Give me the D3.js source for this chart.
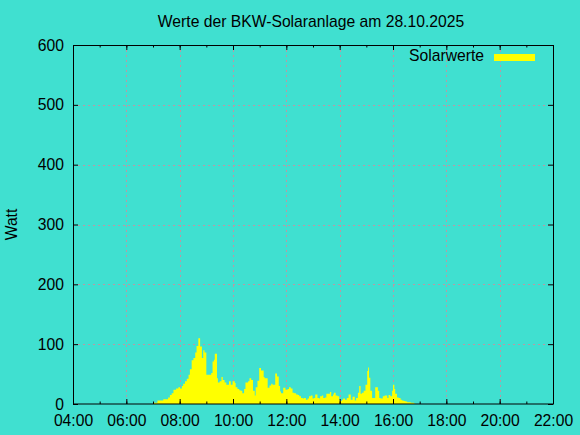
<!DOCTYPE html>
<html>
<head>
<meta charset="utf-8">
<script src="https://cdn.jsdelivr.net/npm/d3@7"></script>
<style>
  body { margin: 0; background: #40e0d0; }
  svg { display: block; font-family: "Liberation Sans", Arial, sans-serif; }
</style>
</head>
<body>
<svg id="chart" width="580" height="435"></svg>
<script>
//Messwerte (Uhrzeit der Stufe, Leistung in Watt)
var times = ["07:02","07:10","07:23","07:34","07:38","07:42","07:46","07:52","07:57","08:01",
  "08:05","08:08","08:12","08:16","08:20","08:23","08:27","08:31","08:35","08:38",
  "08:42","08:46","08:50","08:53","08:56","09:00","09:11","09:14","09:17","09:19",
  "09:24","09:26","09:30","09:34","09:37","09:41","09:45","09:51","09:55","09:59",
  "10:04","10:06","10:10","10:14","10:17","10:21","10:25","10:28","10:34","10:37",
  "10:41","10:45","10:49","10:51","10:55","10:59","11:03","11:09","11:11","11:18",
  "11:22","11:26","11:29","11:35","11:39","11:43","11:46","11:48","11:53","11:58",
  "12:03","12:06","12:10","12:14","12:18","12:22","12:26","12:29","12:33","12:37",
  "12:40","12:44","12:48","12:51","12:55","12:59","13:02","13:05","13:10","13:14",
  "13:16","13:20","13:23","13:27","13:30","13:35","13:38","13:41","13:45","13:47",
  "13:51","13:55","13:59","14:01","14:05","14:08","14:12","14:16","14:20","14:25",
  "14:29","14:34","14:37","14:41","14:44","14:47","14:50","14:54","14:58","15:02",
  "15:04","15:06","15:09","15:13","15:17","15:20","15:26","15:29","15:32","15:37",
  "15:41","15:47","15:50","15:54","15:58","16:00","16:03","16:05","16:09","16:13",
  "16:17","16:20","16:24","16:28","16:32","16:36","16:40","16:43","16:47","16:50"];
var watts = [2,6,8,11,15,18,24,26,28,26,
  30,34,38,42,49,58,73,77,86,97,
  110,96,77,90,86,49,52,71,74,84,
  43,36,38,45,40,36,32,38,32,38,
  35,28,25,23,22,18,25,36,38,43,
  40,22,14,28,39,60,56,45,43,27,
  31,34,32,51,46,30,21,18,27,24,
  25,28,26,19,18,16,15,13,10,9,
  10,7,9,13,14,9,10,16,10,9,
  13,14,10,11,17,17,20,13,16,19,
  14,13,7,5,7,9,7,10,16,7,
  12,6,10,19,30,17,19,22,32,55,
  61,44,22,10,10,28,22,10,9,13,
  14,10,15,13,22,32,25,17,11,10,
  7,6,5,4,3,3,2,2,1,0];

var xTicks = ["04:00","06:00","08:00","10:00","12:00","14:00","16:00","18:00","20:00","22:00"];
var yTicks = [0, 100, 200, 300, 400, 500, 600];

var title = "Werte der BKW-Solaranlage am 28.10.2025";
var yLabel = "Watt";
var seriesName = "Solarwerte";

var fillColor = "#ffff00";
var gridColor = "#b89aa4";
var fontSize = 15.7;

var svg = d3.select("svg#chart");
var margin = { left: 73, right: 27, top: 45, bottom: 31 };
var width = 580 - margin.left - margin.right,
    height = 435 - margin.top - margin.bottom;

var parseTime = d3.timeParse("%H:%M");
var data = times.map(function (t, i) { return { t: parseTime(t), w: watts[i] }; });

var x = d3.scaleTime()
  .domain([parseTime(xTicks[0]), parseTime(xTicks[xTicks.length - 1])])
  .range([0, width]);
var y = d3.scaleLinear()
  .domain([yTicks[0], yTicks[yTicks.length - 1]])
  .range([height, 0]);

var majorX = xTicks.map(parseTime);
var minorX = d3.timeHour.every(1).range(x.domain()[0], x.domain()[1]).concat([x.domain()[1]]);

var g = svg.append("g")
  .attr("transform", "translate(" + margin.left + "," + margin.top + ")");

//Gitter (gepunktet, hinter den Daten)
g.append("g").selectAll("line.gx")
  .data(majorX.slice(1, -1))
  .enter().append("line")
    .attr("x1", function (d) { return Math.round(x(d)) + 0.5; })
    .attr("x2", function (d) { return Math.round(x(d)) + 0.5; })
    .attr("y1", 0).attr("y2", height)
    .attr("stroke", gridColor)
    .attr("stroke-dasharray", "2,3");
g.append("g").selectAll("line.gy")
  .data(yTicks.slice(1, -1))
  .enter().append("line")
    .attr("x1", 0).attr("x2", width)
    .attr("y1", function (d) { return Math.round(y(d)) + 0.5; })
    .attr("y2", function (d) { return Math.round(y(d)) + 0.5; })
    .attr("stroke", gridColor)
    .attr("stroke-dasharray", "2,3");

//Flaeche der Solarwerte
var area = d3.area()
  .curve(d3.curveStepAfter)
  .x(function (d) { return x(d.t); })
  .y0(y(0))
  .y1(function (d) { return y(d.w); });

g.append("path")
  .datum(data)
  .attr("fill", fillColor)
  .attr("d", area);

//Achsen mit Ticks nach innen
function styleAxis(sel) {
  sel.select(".domain").remove();
  sel.selectAll("line").attr("stroke", "#000");
  sel.selectAll("text").attr("fill", "#000").style("font-size", fontSize + "px");
}

g.append("g")
  .attr("transform", "translate(0," + height + ")")
  .call(d3.axisBottom(x).tickValues(minorX).tickSize(-2.5).tickFormat(""))
  .call(styleAxis);
g.append("g")
  .attr("transform", "translate(0," + height + ")")
  .call(d3.axisBottom(x).tickValues(majorX).tickSize(-5).tickPadding(10.5)
    .tickFormat(d3.timeFormat("%H:%M")))
  .call(styleAxis);
g.append("g")
  .call(d3.axisTop(x).tickValues(minorX).tickSize(-2.5).tickFormat(""))
  .call(styleAxis);
g.append("g")
  .call(d3.axisTop(x).tickValues(majorX).tickSize(-5).tickFormat(""))
  .call(styleAxis);
g.append("g")
  .call(d3.axisLeft(y).tickValues(yTicks).tickSize(-5).tickPadding(9))
  .call(styleAxis);
g.append("g")
  .attr("transform", "translate(" + width + ",0)")
  .call(d3.axisRight(y).tickValues(yTicks).tickSize(-5).tickFormat(""))
  .call(styleAxis);

//Rahmen
g.append("rect")
  .attr("x", 0.5).attr("y", 0.5)
  .attr("width", width).attr("height", height - 0.5)
  .attr("fill", "none")
  .attr("stroke", "#000");

//Titel
svg.append("text")
  .attr("x", 311).attr("y", 27)
  .attr("text-anchor", "middle")
  .style("font-size", fontSize + "px")
  .text(title);

//Achsenbeschriftung
svg.append("text")
  .attr("transform", "translate(17," + (margin.top + height / 2) + ") rotate(-90)")
  .attr("text-anchor", "middle")
  .style("font-size", fontSize + "px")
  .text(yLabel);

//Legende
var legend = g.append("g").attr("transform", "translate(" + (width - 18) + ",9)");
legend.append("rect")
  .attr("x", -41).attr("y", 0)
  .attr("width", 41).attr("height", 7)
  .attr("fill", fillColor);
legend.append("text")
  .attr("x", -51).attr("y", 7)
  .attr("text-anchor", "end")
  .style("font-size", fontSize + "px")
  .text(seriesName);
</script>
</body>
</html>
